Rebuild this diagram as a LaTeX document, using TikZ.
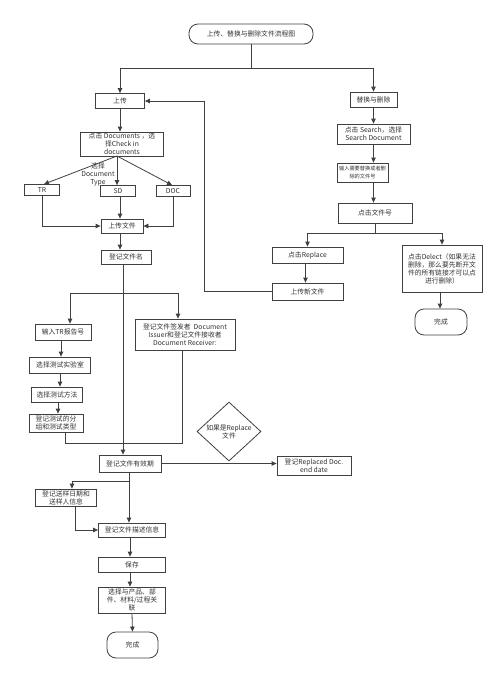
\documentclass[tikz,border=0pt]{standalone}
\usepackage{fontspec}
\newfontfamily\cjk{Noto Sans CJK SC}
\usetikzlibrary{arrows.meta,shapes.geometric}
\definecolor{ln}{HTML}{404040}
\definecolor{tx}{HTML}{333333}
\tikzset{
  box/.style={draw=ln, line width=0.8pt, fill=white, text=tx, font=\cjk\fontsize{6.8}{8}\selectfont, align=center, inner sep=1pt},
  term/.style={box, rounded corners=9pt},
  lbl/.style={text=tx, font=\cjk\fontsize{6.8}{8}\selectfont, align=center, inner sep=0pt},
  conn/.style={draw=ln, line width=0.8pt},
  arr/.style={conn, -{Triangle[length=5pt,width=4.5pt]}},
  decide/.style={box, diamond, aspect=1.08, minimum width=64pt, minimum height=59pt, inner sep=0pt}
}
\begin{document}
\begin{tikzpicture}[x=1pt,y=-1pt]
\path[use as bounding box, fill=white] (0,0) rectangle (500,675);
% nodes
\node[term, minimum width=124pt, minimum height=20pt] (title) at (251,34) {上传、替换与删除文件流程图};
\node[box, minimum width=49pt, minimum height=15pt] (upload) at (120,101) {上传};
\node[box, minimum width=83pt, minimum height=24pt] (clickdoc) at (122,144) {点击 Documents ，选\\择Check in\\documents};
\node[lbl] (typelbl) at (98,174) {选择\\Document\\Type};
\node[box, minimum width=35pt, minimum height=11pt] (TR) at (42,190) {TR};
\node[box, minimum width=35pt, minimum height=11pt] (SD) at (118,191) {SD};
\node[box, minimum width=34pt, minimum height=11pt] (DOC) at (173,191) {DOC};
\node[box, minimum width=42pt, minimum height=14pt] (uploadfile) at (122,226) {上传文件};
\node[box, minimum width=50pt, minimum height=14pt] (regname) at (126,257) {登记文件名};
\node[box, minimum width=56pt, minimum height=16pt] (inputTR) at (63,332) {输入TR报告号};
\node[box, minimum width=100pt, minimum height=31pt] (issuer) at (185,334.5) {登记文件签发者 \ Document\\Issuer和登记文件接收者\\Document Receiver:};
\node[box, minimum width=61pt, minimum height=16pt] (lab) at (60,365) {选择测试实验室};
\node[box, minimum width=51pt, minimum height=15pt] (method) at (57,394.5) {选择测试方法};
\node[box, minimum width=54pt, minimum height=18pt] (group) at (56,423) {登记测试的分\\组和测试类型};
\node[box, minimum width=62pt, minimum height=17pt] (valid) at (130,463.5) {登记文件有效期};
\node[decide] (ifrep) at (229,431.5) {如果是Replace\\文件};
\node[box, minimum width=74pt, minimum height=19pt] (replaced) at (314,465.5) {登记Replaced Doc.\\end date};
\node[box, minimum width=61pt, minimum height=17pt] (sample) at (66,497.5) {登记送样日期和\\送样人信息};
\node[box, minimum width=67pt, minimum height=14pt] (desc) at (132,530) {登记文件描述信息};
\node[box, minimum width=67pt, minimum height=15pt] (save) at (132,564.5) {保存};
\node[box, minimum width=67pt, minimum height=26pt] (assoc) at (132,600) {选择与产品、部\\件、材料/过程关\\联};
\node[term, minimum width=51pt, minimum height=26pt] (end1) at (132.5,645) {完成};
\node[box, minimum width=47pt, minimum height=15pt] (repdel) at (373.5,99.5) {替换与删除};
\node[box, minimum width=73pt, minimum height=20pt] (search) at (373.5,134) {点击 Search，选择\\Search Document};
\node[box, minimum width=51pt, minimum height=19pt, font=\cjk\fontsize{5.2}{7.5}\selectfont] (inputnum) at (362.5,172.5) {输入需要替换或者删\\除的文件号};
\node[box, minimum width=74pt, minimum height=20pt] (clicknum) at (375,213) {点击文件号};
\node[box, minimum width=71pt, minimum height=16pt] (replace) at (307.5,255) {点击Replace};
\node[box, minimum width=71pt, minimum height=17pt] (newfile) at (307.5,291.5) {上传新文件};
\node[box, minimum width=80pt, minimum height=47pt] (delect) at (442,268.5) {点击Delect（如果无法\\删除，那么要先断开文\\件的所有链接才可以点\\进行删除）};
\node[term, minimum width=52pt, minimum height=26pt] (end2) at (441,322) {完成};
% split points
\coordinate (s1) at (251,68);
\coordinate (cd) at (117,156);
\coordinate (s2) at (123,293);
\coordinate (s3) at (129,481);
\coordinate (s4) at (375,233);
% connectors
\draw[conn] (title.south) -- (s1);
\draw[arr] (s1) -| (upload.north);
\draw[arr] (s1) -| (repdel.north);
\draw[arr] (newfile.west) -- ++(-67,0) |- (upload.east);
\draw[arr] (upload.south) -- (clickdoc.north -| upload.south);
\draw[arr] (cd) -- ([xshift=2pt]TR.north);
\draw[arr] (cd) -- (cd |- SD.north);
\draw[arr] (cd) -- ([xshift=-1pt]DOC.north);
\draw[arr] (TR.south) |- (uploadfile.west);
\draw[arr] (DOC.south) |- (uploadfile.east);
\draw[arr] ([xshift=2pt]SD.south) -- ([xshift=2pt]SD.south |- uploadfile.north);
\draw[arr] ([xshift=-2pt]uploadfile.south) -- ([xshift=-2pt]uploadfile.south |- regname.north);
\draw[conn] (s2 |- regname.south) -- (s2);
\draw[arr] (s2) -| ([xshift=7pt]inputTR.north);
\draw[arr] (s2) -| ([xshift=-7pt]issuer.north);
\draw[arr] (s2) -- (s2 |- valid.north);
\draw[arr] ([xshift=-2pt]inputTR.south) -- ([xshift=-2pt]inputTR.south |- lab.north);
\draw[arr] ([xshift=-0pt]lab.south) -- (lab.south |- method.north);
\draw[arr] ([xshift=1pt]method.south) -- ([xshift=1pt]method.south |- group.north);
\draw[conn] ([xshift=9pt]group.south) -- ++(0,11) -| ([xshift=-3pt]issuer.south);
\draw[arr] (valid.east) -- (replaced.west |- valid.east);
\draw[conn] (s3 |- valid.south) -- (s3);
\draw[arr] (s3) -| ([xshift=6pt]sample.north);
\draw[arr] (s3) -- (s3 |- desc.north);
\draw[arr] ([xshift=9pt]sample.south) |- (desc.west);
\draw[arr] ([xshift=-2pt]desc.south) -- ([xshift=-2pt]desc.south |- save.north);
\draw[arr] ([xshift=-2pt]save.south) -- ([xshift=-2pt]save.south |- assoc.north);
\draw[arr] (assoc.south) -- (end1.north);
\draw[arr] (repdel.south) -- (search.north);
\draw[arr] (search.south) -- (search.south |- inputnum.north);
\draw[arr] (search.south |- inputnum.south) -- (search.south |- clicknum.north);
\draw[conn] (clicknum.south) -- (s4);
\draw[arr] (s4) -| (replace.north);
\draw[arr] (s4) -| (delect.north);
\draw[arr] ([xshift=-2pt]replace.south) -- ([xshift=-2pt]newfile.north);
\draw[arr] ([xshift=-2pt]delect.south) -- ([xshift=-2pt]delect.south |- end2.north);
\end{tikzpicture}
\end{document}
